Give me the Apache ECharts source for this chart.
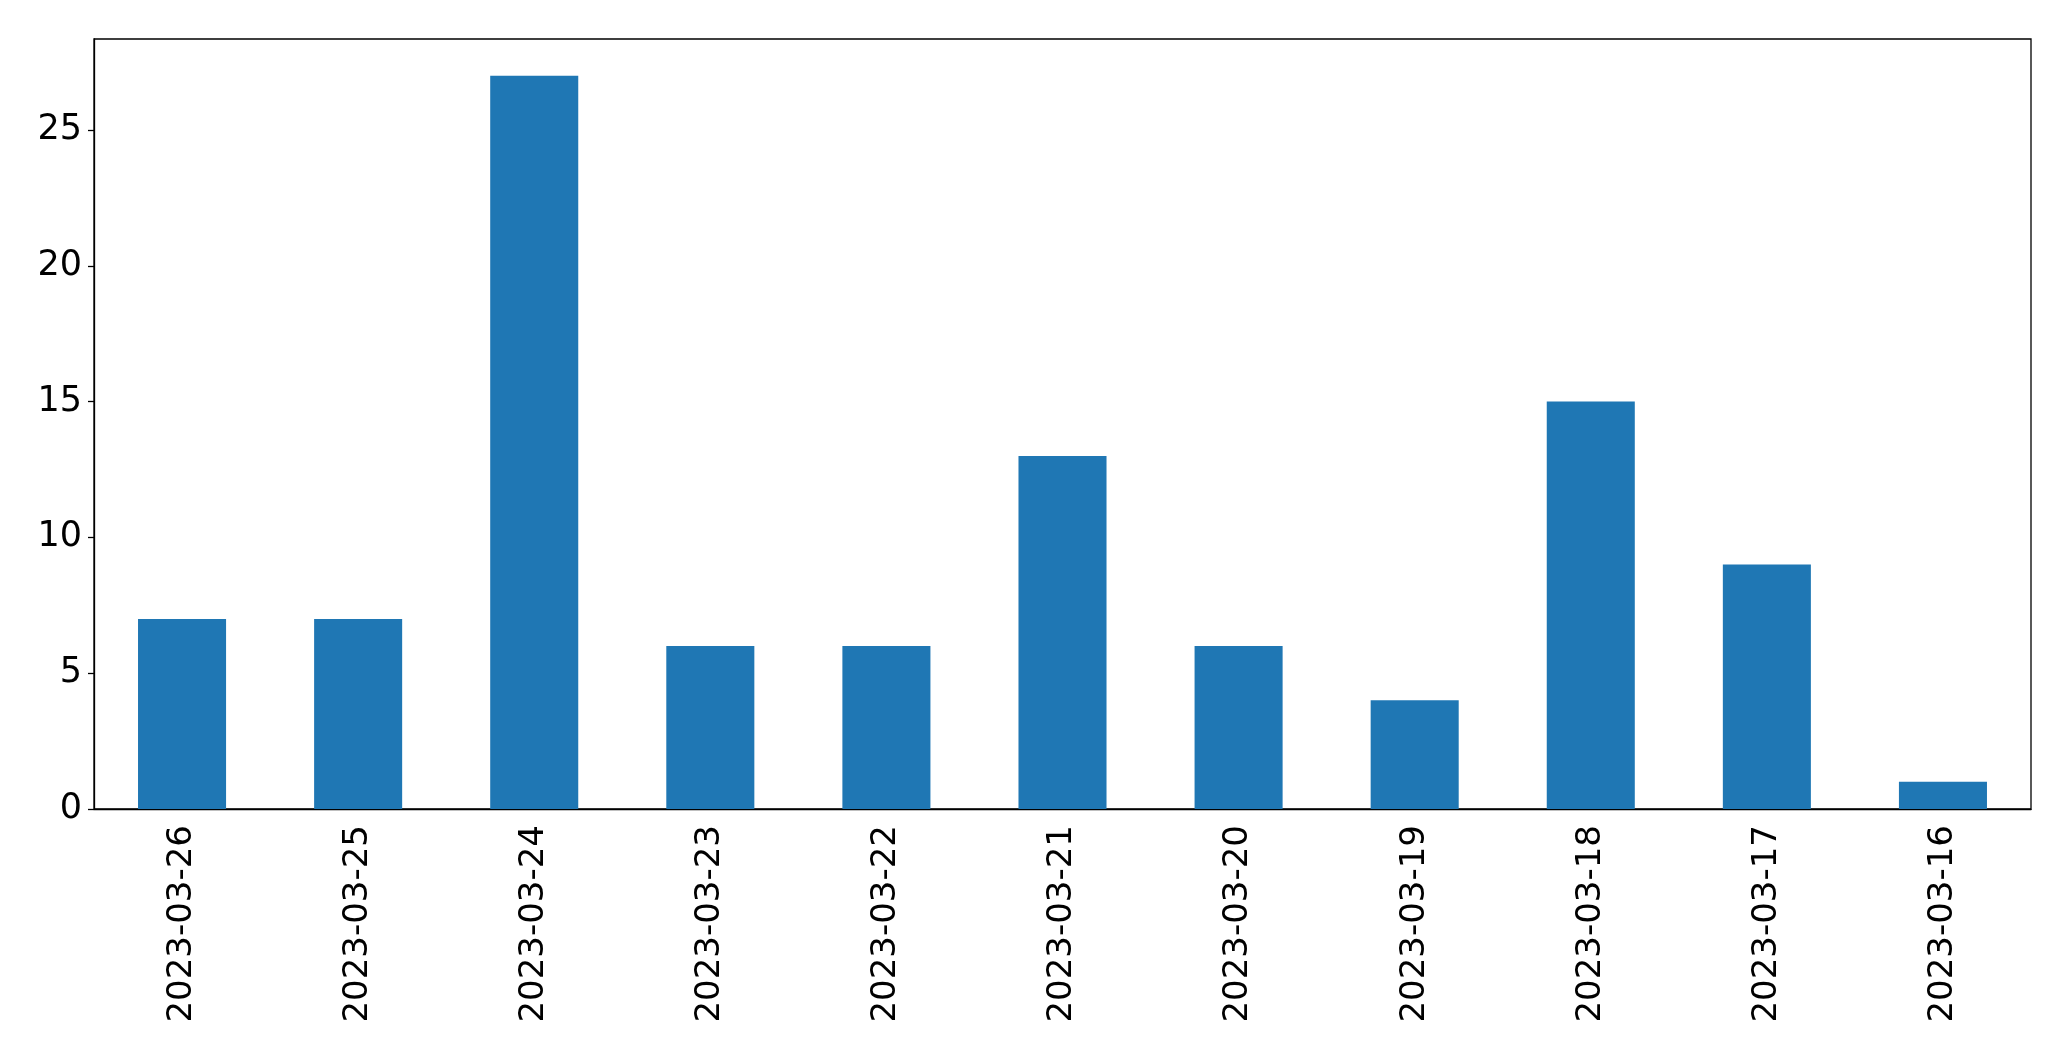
<!DOCTYPE html>
<html>
<head>
<meta charset="utf-8">
<script src="https://cdn.jsdelivr.net/npm/echarts@6/dist/echarts.min.js"></script>
<style>html,body{margin:0;padding:0;background:#fff;}#chart{width:2071px;height:1061px;}</style>
</head>
<body>
<div id="chart"></div>
<script>
const categories = ['2023-03-26','2023-03-25','2023-03-24','2023-03-23','2023-03-22','2023-03-21','2023-03-20','2023-03-19','2023-03-18','2023-03-17','2023-03-16'];
const values = [7, 7, 27, 6, 6, 13, 6, 4, 15, 9, 1];
const yTicks = [0, 5, 10, 15, 20, 25];
const yMax = 28.35;

const font = 'DejaVu Sans';
const chart = echarts.init(document.getElementById('chart'), null, {renderer: 'canvas'});
chart.setOption({
  animation: false,
  backgroundColor: '#fff',
  grid: {left: 94, top: 39, width: 1937, height: 770, show: true, borderColor: '#000', borderWidth: 1.3, backgroundColor: 'transparent'},
  xAxis: {
    type: 'category',
    data: categories,
    axisLine: {lineStyle: {color: '#000', width: 1.3}},
    axisTick: {alignWithLabel: true, length: 6, lineStyle: {color: '#000', width: 1.3}},
    axisLabel: {rotate: 90, margin: 16, color: '#000', fontFamily: font, fontSize: 34, interval: 0}
  },
  yAxis: {
    type: 'value',
    min: 0,
    max: yMax,
    axisLine: {show: true, lineStyle: {color: '#000', width: 1.3}},
    axisTick: {show: true, length: 6, customValues: yTicks, lineStyle: {color: '#000', width: 1.3}},
    axisLabel: {customValues: yTicks, margin: 12, color: '#000', fontFamily: font, fontSize: 35},
    splitLine: {show: false}
  },
  series: [{
    type: 'bar',
    data: values,
    barWidth: '50%',
    itemStyle: {color: '#1f77b4'}
  }]
});
</script>
</body>
</html>
